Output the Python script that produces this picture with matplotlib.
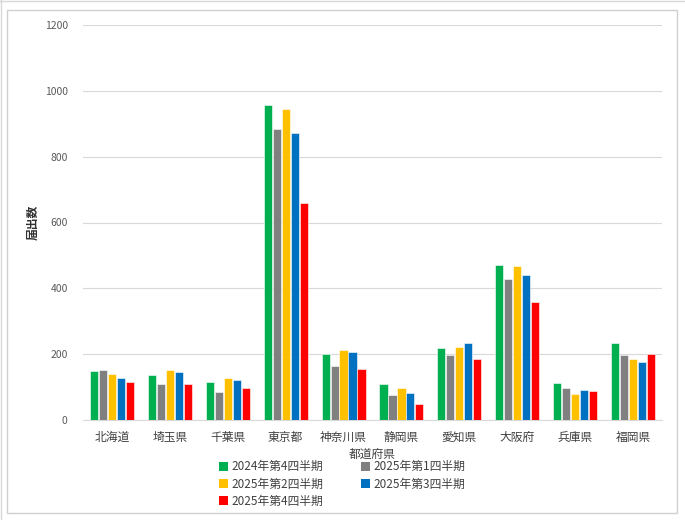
import matplotlib
matplotlib.use("Agg")
import matplotlib.pyplot as plt
import numpy as np
from matplotlib.patches import Rectangle, Patch

plt.rcParams['font.family'] = ['Noto Sans CJK JP', 'DejaVu Sans']

categories = ["北海道", "埼玉県", "千葉県", "東京都", "神奈川県", "静岡県", "愛知県", "大阪府", "兵庫県", "福岡県"]
series_names = ["2024年第4四半期", "2025年第1四半期", "2025年第2四半期", "2025年第3四半期", "2025年第4四半期"]
q4_2024 = [148, 137, 115, 957, 199, 110, 219, 472, 112, 233]
q1_2025 = [151, 108, 85, 883, 165, 77, 198, 428, 96, 198]
q2_2025 = [141, 153, 129, 945, 213, 96, 222, 469, 79, 186]
q3_2025 = [127, 145, 121, 871, 207, 82, 233, 440, 90, 175]
q4_2025 = [116, 108, 98, 659, 155, 48, 184, 358, 89, 200]
colors = ["#00B050", "#808080", "#FFC000", "#0070C0", "#FF0000"]
yticks = [0, 200, 400, 600, 800, 1000, 1200]

series = [q4_2024, q1_2025, q2_2025, q3_2025, q4_2025]

W, H = 685, 520
fig = plt.figure(figsize=(6.85, 5.2), dpi=100)
ax = fig.add_axes([83 / W, 1 - 420 / H, (662 - 83) / W, (420 - 25) / H])

x = np.arange(len(categories))
step = 0.155
width = 0.14
for i, (vals, c) in enumerate(zip(series, colors)):
    ax.bar(x + (i - 2) * step, vals, width=width, color=c, edgecolor="white", linewidth=0.4, zorder=3)

ax.set_xlim(-0.5, len(categories) - 0.5)
ax.set_ylim(0, 1200)
ax.set_yticks(yticks)
ax.set_yticklabels([str(v) for v in yticks], fontsize=7.5, color="#595959")
ax.set_xticks(x)
ax.set_xticklabels(categories, fontsize=8.5, color="#404040")
ax.tick_params(axis="both", length=0)
ax.tick_params(axis="y", pad=11)
ax.tick_params(axis="x", pad=8)
ax.grid(axis="y", color="#D9D9D9", linewidth=0.8, zorder=0)
for s in ["top", "right", "left"]:
    ax.spines[s].set_visible(False)
ax.spines["bottom"].set_color("#D9D9D9")
ax.set_xlabel("都道府県", fontsize=8.5, color="#404040", labelpad=3)
ax.set_ylabel("届出数", fontsize=8.5, color="#303030", fontweight="bold")
ax.yaxis.set_label_coords((40 - 83) / (662 - 83), 0.5)

handles = [Patch(facecolor=c, edgecolor="none") for c in colors]
order = [0, 2, 4, 1, 3]
fig.legend([handles[i] for i in order], [series_names[i] for i in order],
           ncol=2, loc="center", bbox_to_anchor=(342 / W, 1 - 484 / H),
           frameon=False, fontsize=8.5, handlelength=0.75, handleheight=0.75,
           handletextpad=0.3, columnspacing=3.2, labelspacing=0.35,
           labelcolor="#404040", borderpad=0)

fig.patches.append(Rectangle((7 / W, 1 - 513 / H), (677 - 7) / W, (513 - 10) / H,
                             transform=fig.transFigure, facecolor="none",
                             edgecolor="#D0D0D0", linewidth=1.0))
fig.lines.append(plt.Line2D([0.5 / W, 0.5 / W], [0, 1], transform=fig.transFigure, color="#D8D8D8", linewidth=1.0))
fig.lines.append(plt.Line2D([0, 1], [1 - 0.5 / H, 1 - 0.5 / H], transform=fig.transFigure, color="#D8D8D8", linewidth=1.0))

fig.savefig("out.png", dpi=100)
